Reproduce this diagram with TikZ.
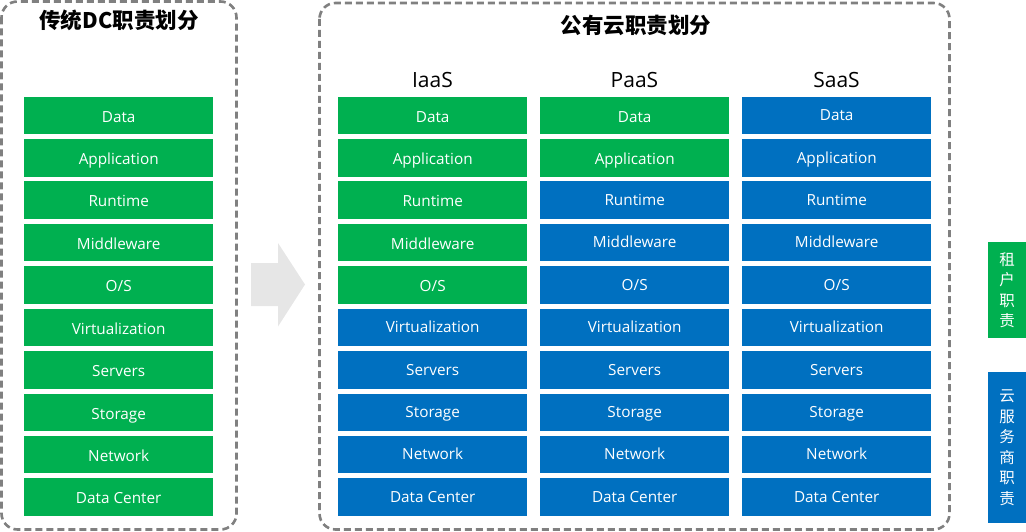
\documentclass[tikz,border=0pt]{standalone}
\usepackage{fontspec}
\setmainfont{Open Sans}
\newfontfamily\cjk{Noto Sans CJK SC}
\definecolor{cgreen}{HTML}{00B050}
\definecolor{cblue}{HTML}{0070C0}
\definecolor{cgray}{HTML}{808080}
\definecolor{arrowgray}{HTML}{E6E6E6}
\begin{document}
\begin{tikzpicture}[x=1pt,y=-1pt,
  cell/.style={minimum width=189pt, minimum height=37.5pt, inner sep=0pt, text depth=3.5pt, anchor=north west, text=white, font=\fontsize{15.3}{17}\selectfont},
  gcell/.style={cell, fill=cgreen, text height=17pt},
  bcell/.style={cell, fill=cblue, text height=14pt},
  frame/.style={draw=cgray, line width=2.6pt, dash pattern=on 7pt off 4pt, rounded corners=16pt},
  title/.style={font=\fontsize{21.5}{24}\selectfont\cjk\bfseries},
  colhead/.style={font=\fontsize{21}{24}\selectfont},
  legend/.style={minimum width=38pt, inner sep=0pt, anchor=north west, text=white, align=center, font=\fontsize{15.5}{20.5}\selectfont\cjk}]
\useasboundingbox (0,0) rectangle (1026,532);
% frames
\draw[frame] (1.5,1.5) rectangle (236.5,529.5);
\draw[frame] (319.5,3) rectangle (949.5,529.5);
% titles
\node[title] (t1) at (119,20) {传统DC职责划分};
\node[title] (t2) at (636,25) {公有云职责划分};
% column headers
\node[colhead] (hI) at (432.5,80) {IaaS};
\node[colhead] (hP) at (634.5,80) {PaaS};
\node[colhead] (hS) at (836.5,80) {SaaS};
% rows
\foreach \lbl [count=\i from 0] in {Data,Application,Runtime,Middleware,O/S,Virtualization,Servers,Storage,Network,Data Center}{
  \pgfmathsetmacro{\yy}{96.5+42.4*\i}
  \node[gcell] (dc-\i) at (24,\yy) {\lbl};
  \ifnum\i<5
    \node[gcell] (iaas-\i) at (338,\yy) {\lbl};
  \else
    \node[bcell] (iaas-\i) at (338,\yy) {\lbl};
  \fi
  \ifnum\i<2
    \node[gcell] (paas-\i) at (540,\yy) {\lbl};
  \else
    \node[bcell] (paas-\i) at (540,\yy) {\lbl};
  \fi
  \node[bcell] (saas-\i) at (742,\yy) {\lbl};
}
% arrow
\fill[arrowgray] (251,263) -- (278,263) -- (278,243) -- (305,284.5) -- (278,326.5) -- (278,306) -- (251,306) -- cycle;
% legend
\node[legend, fill=cgreen, minimum height=96pt] (lg) at (988,242) {租\\户\\职\\责};
\node[legend, fill=cblue, minimum height=151pt] (lb) at (988,372) {云\\服\\务\\商\\职\\责};
\end{tikzpicture}
\end{document}
